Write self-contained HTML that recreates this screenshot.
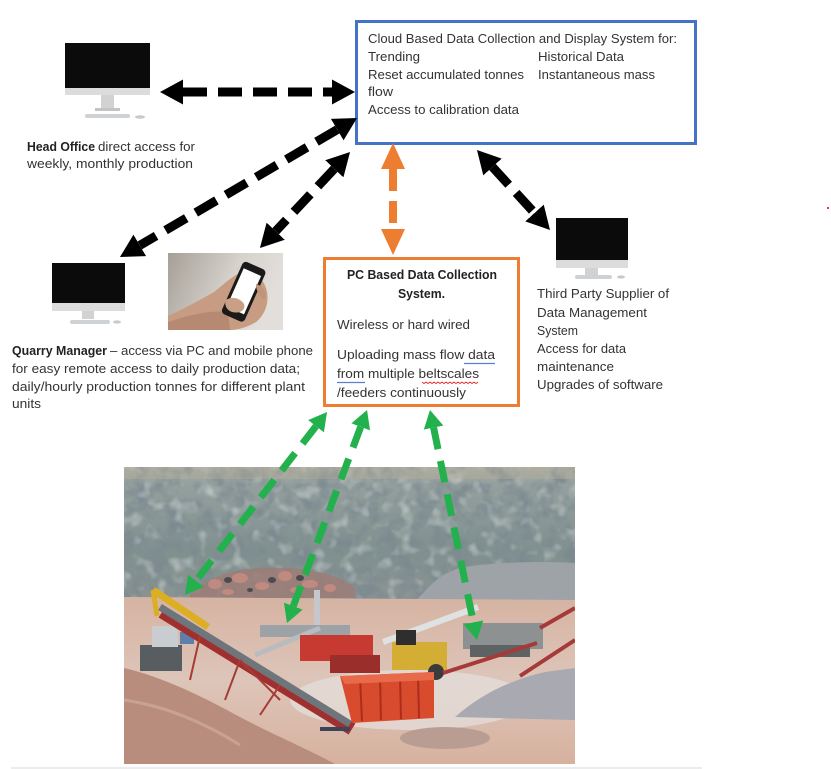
<!DOCTYPE html>
<html>
<head>
<meta charset="utf-8">
<style>
html,body{margin:0;padding:0;background:#fff;}
svg{display:block;}
text{font-family:"Liberation Sans",Arial,sans-serif;font-size:12.5px;fill:#333;}
.b{font-weight:bold;fill:#222;}
</style>
</head>
<body>
<svg width="831" height="769" viewBox="0 0 831 769" xmlns="http://www.w3.org/2000/svg">
<defs>
  <marker id="ab" markerUnits="userSpaceOnUse" markerWidth="26" markerHeight="28" viewBox="0 -14 26 28" refX="0" refY="0" orient="auto-start-reverse">
    <path d="M0,-12.5 L23,0 L0,12.5 Z" fill="#000"/>
  </marker>
  <marker id="ao" markerUnits="userSpaceOnUse" markerWidth="28" markerHeight="28" viewBox="0 -14 28 28" refX="0" refY="0" orient="auto-start-reverse">
    <path d="M0,-12 L26,0 L0,12 Z" fill="#ED7D31"/>
  </marker>
  <marker id="ag" markerUnits="userSpaceOnUse" markerWidth="22" markerHeight="24" viewBox="0 -12 22 24" refX="0" refY="0" orient="auto-start-reverse">
    <path d="M0,-10 L18,0 L0,10 Z" fill="#22B14C"/>
  </marker>
  <linearGradient id="wall" x1="0" y1="0" x2="0" y2="1">
    <stop offset="0" stop-color="#a9ada3"/>
    <stop offset="0.12" stop-color="#94a09e"/>
    <stop offset="0.6" stop-color="#80908f"/>
    <stop offset="1" stop-color="#8c9593"/>
  </linearGradient>
  <linearGradient id="ground" x1="0" y1="0" x2="0" y2="1">
    <stop offset="0" stop-color="#d6b3a2"/>
    <stop offset="0.5" stop-color="#ddc5b9"/>
    <stop offset="1" stop-color="#d7b19e"/>
  </linearGradient>
  <linearGradient id="phonebg" x1="0" y1="0" x2="1" y2="0.3">
    <stop offset="0" stop-color="#a59f96"/>
    <stop offset="0.6" stop-color="#d6d2cc"/>
    <stop offset="1" stop-color="#e2dfda"/>
  </linearGradient>
  <filter id="rock" x="0" y="0" width="100%" height="100%">
    <feTurbulence type="fractalNoise" baseFrequency="0.06" numOctaves="3" seed="7"/>
    <feColorMatrix type="matrix" values="0 0 0 0 0.2  0 0 0 0 0.25  0 0 0 0 0.28  3.2 0 0 0 -1.35"/>
  </filter>
  <filter id="rock2" x="0" y="0" width="100%" height="100%">
    <feTurbulence type="fractalNoise" baseFrequency="0.07" numOctaves="2" seed="2"/>
    <feColorMatrix type="matrix" values="0 0 0 0 0.78  0 0 0 0 0.82  0 0 0 0 0.8  0 3 0 0 -1.6"/>
  </filter>
  <clipPath id="photo"><rect x="124" y="467" width="451" height="297"/></clipPath>
  <clipPath id="phclip"><rect x="168" y="253" width="115" height="77"/></clipPath>
</defs>

<!-- Cloud box -->
<rect x="356.5" y="21.5" width="339" height="122" fill="#fff" stroke="#4472C4" stroke-width="3"/>
<text x="368" y="43" textLength="309" lengthAdjust="spacingAndGlyphs">Cloud Based Data Collection and Display System for:</text>
<text x="368" y="61" textLength="52" lengthAdjust="spacingAndGlyphs">Trending</text>
<text x="538" y="61" textLength="86" lengthAdjust="spacingAndGlyphs">Historical Data</text>
<text x="368" y="79" textLength="156" lengthAdjust="spacingAndGlyphs">Reset accumulated tonnes</text>
<text x="538" y="79" textLength="117" lengthAdjust="spacingAndGlyphs">Instantaneous mass</text>
<text x="368" y="96" textLength="25" lengthAdjust="spacingAndGlyphs">flow</text>
<text x="368" y="114" textLength="151" lengthAdjust="spacingAndGlyphs">Access to calibration data</text>

<!-- Head office monitor -->
<rect x="65" y="43" width="85" height="45" fill="#0b0b0b"/>
<rect x="65" y="88" width="85" height="7" fill="#dcdcdc"/>
<rect x="101" y="95" width="13" height="13" fill="#d2d2d2"/>
<rect x="95" y="108" width="25" height="3" fill="#c4c4c4"/>
<rect x="85" y="114" width="45" height="4" rx="2" fill="#cfd2d4"/>
<ellipse cx="140" cy="117" rx="5" ry="1.8" fill="#c9c9c9"/>
<text class="b" x="27" y="151" textLength="68" lengthAdjust="spacingAndGlyphs">Head Office</text>
<text x="98" y="151" textLength="97" lengthAdjust="spacingAndGlyphs">direct access for</text>
<text x="27" y="168" textLength="166" lengthAdjust="spacingAndGlyphs">weekly, monthly production</text>

<!-- Quarry manager monitor -->
<rect x="52" y="263" width="73" height="40" fill="#0b0b0b"/>
<rect x="52" y="303" width="73" height="8" fill="#dcdcdc"/>
<rect x="82" y="311" width="12" height="8" fill="#d2d2d2"/>
<rect x="70" y="320" width="40" height="4" rx="2" fill="#cfd2d4"/>
<ellipse cx="117" cy="322" rx="4" ry="1.6" fill="#c9c9c9"/>

<!-- Phone photo -->
<g clip-path="url(#phclip)">
  <rect x="168" y="253" width="115" height="77" fill="url(#phonebg)"/>
  <path d="M168,316 C185,308 200,300 214,292 C224,284 232,276 242,272 C252,270 262,276 266,288 C270,300 266,314 256,322 C246,328 236,330 230,330 L168,330 Z" fill="#c79c82"/>
  <path d="M168,322 C190,315 210,310 228,312 L230,330 L168,330 Z" fill="#b68a72"/>
  <g transform="rotate(24 243 292)">
    <rect x="231" y="263" width="25" height="57" rx="4" fill="#1a1a1a"/>
    <rect x="234" y="270" width="19" height="42" fill="#ffffff"/>
  </g>
  <path d="M226,300 C232,296 240,298 244,304 C246,310 240,314 232,312 C226,310 224,304 226,300 Z" fill="#c99f85"/>
  <path d="M256,284 C264,286 268,294 264,300 C260,296 256,292 256,284 Z" fill="#c09479"/>
</g>

<text class="b" x="12" y="355" textLength="95" lengthAdjust="spacingAndGlyphs">Quarry Manager</text>
<text x="110" y="355" textLength="203" lengthAdjust="spacingAndGlyphs">– access via PC and mobile phone</text>
<text x="12" y="373" textLength="288" lengthAdjust="spacingAndGlyphs">for easy remote access to daily production data;</text>
<text x="12" y="391" textLength="293" lengthAdjust="spacingAndGlyphs">daily/hourly production tonnes for different plant</text>
<text x="12" y="408" textLength="29" lengthAdjust="spacingAndGlyphs">units</text>

<!-- PC box -->
<rect x="324.5" y="258.5" width="194" height="147" fill="#fff" stroke="#ED7D31" stroke-width="3"/>
<text class="b" x="347" y="279" textLength="150" lengthAdjust="spacingAndGlyphs">PC Based Data Collection</text>
<text class="b" x="398" y="298" textLength="47" lengthAdjust="spacingAndGlyphs">System.</text>
<text x="337" y="329" textLength="133" lengthAdjust="spacingAndGlyphs">Wireless or hard wired</text>
<text x="337" y="359" textLength="158" lengthAdjust="spacingAndGlyphs">Uploading mass flow data</text>
<text x="337" y="378" textLength="142" lengthAdjust="spacingAndGlyphs">from multiple beltscales</text>
<text x="337" y="397" textLength="129" lengthAdjust="spacingAndGlyphs">/feeders continuously</text>
<line x1="464" y1="363.5" x2="495" y2="363.5" stroke="#5b7fd0" stroke-width="1.3"/>
<line x1="337" y1="382.5" x2="365" y2="382.5" stroke="#5b7fd0" stroke-width="1.3"/>
<path d="M422,382 l2,1.5 l2,-1.5 l2,1.5 l2,-1.5 l2,1.5 l2,-1.5 l2,1.5 l2,-1.5 l2,1.5 l2,-1.5 l2,1.5 l2,-1.5 l2,1.5 l2,-1.5 l2,1.5 l2,-1.5 l2,1.5 l2,-1.5 l2,1.5 l2,-1.5 l2,1.5 l2,-1.5 l2,1.5 l2,-1.5 l2,1.5 l2,-1.5 l2,1.5 l2,-1.5" fill="none" stroke="#e03030" stroke-width="0.9"/>

<!-- Third party monitor -->
<rect x="556" y="218" width="72" height="42" fill="#0b0b0b"/>
<rect x="556" y="260" width="72" height="8" fill="#dcdcdc"/>
<rect x="585" y="268" width="13" height="7" fill="#d2d2d2"/>
<rect x="575" y="275" width="37" height="4" rx="2" fill="#cfd2d4"/>
<ellipse cx="621" cy="277" rx="4" ry="1.6" fill="#c9c9c9"/>
<text x="537" y="298" textLength="132" lengthAdjust="spacingAndGlyphs">Third Party Supplier of</text>
<text x="537" y="317" textLength="110" lengthAdjust="spacingAndGlyphs">Data Management</text>
<text x="537" y="335" textLength="41" lengthAdjust="spacingAndGlyphs">System</text>
<text x="537" y="353" textLength="89" lengthAdjust="spacingAndGlyphs">Access for data</text>
<text x="537" y="371" textLength="77" lengthAdjust="spacingAndGlyphs">maintenance</text>
<text x="537" y="389" textLength="126" lengthAdjust="spacingAndGlyphs">Upgrades of software</text>

<!-- Black dashed arrows -->
<g stroke="#000" stroke-width="9" fill="none" stroke-dasharray="24 11">
  <line x1="183" y1="92" x2="332" y2="92" marker-start="url(#ab)" marker-end="url(#ab)"/>
  <line x1="337.2" y1="129.6" x2="139.8" y2="245.4" marker-start="url(#ab)" marker-end="url(#ab)"/>
  <line x1="334.3" y1="168.8" x2="275.7" y2="231.2" marker-start="url(#ab)" marker-end="url(#ab)"/>
  <line x1="492.5" y1="167" x2="534.5" y2="213" marker-start="url(#ab)" marker-end="url(#ab)"/>
</g>
<!-- Orange arrow -->
<line x1="393" y1="169" x2="393" y2="229" stroke="#ED7D31" stroke-width="8" stroke-dasharray="22 10" marker-start="url(#ao)" marker-end="url(#ao)"/>

<!-- Quarry photo -->
<g clip-path="url(#photo)">
  <rect x="124" y="467" width="451" height="140" fill="url(#wall)"/>
  <rect x="124" y="467" width="451" height="140" filter="url(#rock)" opacity="0.85"/>
  <rect x="124" y="467" width="451" height="140" filter="url(#rock2)" opacity="0.45"/>
  <rect x="124" y="467" width="451" height="12" fill="#b4ad9c" opacity="0.45"/>
  <!-- pink rocks -->
  <path d="M190,594 C205,580 225,570 260,568 C300,566 335,572 355,588 L355,598 L190,598 Z" fill="#9c7c76" opacity="0.85"/>
  <g fill="#c08a80">
    <ellipse cx="215" cy="584" rx="7" ry="5"/><ellipse cx="240" cy="578" rx="8" ry="5"/>
    <ellipse cx="262" cy="586" rx="7" ry="4"/><ellipse cx="285" cy="576" rx="7" ry="5"/>
    <ellipse cx="310" cy="584" rx="8" ry="4"/><ellipse cx="330" cy="588" rx="6" ry="4"/>
    <ellipse cx="228" cy="592" rx="6" ry="3"/><ellipse cx="296" cy="590" rx="6" ry="3"/>
  </g>
  <g fill="#4d4a4e">
    <ellipse cx="228" cy="580" rx="4" ry="3"/><ellipse cx="272" cy="580" rx="4" ry="3"/><ellipse cx="300" cy="578" rx="4" ry="3"/><ellipse cx="250" cy="590" rx="3" ry="2"/>
  </g>
  <!-- distant gravel right -->
  <path d="M415,602 C430,585 440,574 460,568 C490,562 540,561 575,563 L575,606 Z" fill="#9ea3a8"/>
  <!-- ground -->
  <path d="M124,597 L575,600 L575,764 L124,764 Z" fill="url(#ground)"/>
  <ellipse cx="410" cy="700" rx="120" ry="30" fill="#e4dcd8" opacity="0.8"/>
  <!-- left equipment -->
  <rect x="140" y="645" width="42" height="26" fill="#585d62"/>
  <rect x="152" y="626" width="26" height="21" fill="#c9cdd1"/>
  <rect x="180" y="632" width="14" height="12" fill="#5d7fa8"/>
  <!-- yellow arm -->
  <line x1="153" y1="590" x2="208" y2="627" stroke="#dcae22" stroke-width="7"/>
  <line x1="153" y1="590" x2="157" y2="616" stroke="#dcae22" stroke-width="5"/>
  <!-- main conveyor -->
  <line x1="162" y1="612" x2="352" y2="729" stroke="#a03030" stroke-width="13"/>
  <line x1="160" y1="607" x2="350" y2="724" stroke="#6f767b" stroke-width="7"/>
  <g stroke="#a83a34" stroke-width="2">
    <line x1="200" y1="636" x2="190" y2="680"/><line x1="240" y1="660" x2="225" y2="700"/>
    <line x1="280" y1="685" x2="260" y2="715"/><line x1="240" y1="660" x2="280" y2="700"/>
  </g>
  <!-- middle structure -->
  <rect x="314" y="590" width="6" height="45" fill="#c4c8cc"/>
  <rect x="260" y="625" width="90" height="12" fill="#9ca2a6"/>
  <line x1="255" y1="655" x2="320" y2="628" stroke="#b8bcc0" stroke-width="5"/>
  <rect x="300" y="635" width="73" height="26" fill="#c63a32"/>
  <rect x="330" y="655" width="50" height="18" fill="#9a2e2a"/>
  <!-- silver conveyor right -->
  <line x1="383" y1="642" x2="478" y2="607" stroke="#dfe2e2" stroke-width="6"/>
  <!-- yellow loader -->
  <rect x="392" y="642" width="55" height="28" fill="#d4ad34"/>
  <rect x="396" y="630" width="20" height="15" fill="#2e2e2e"/>
  <circle cx="436" cy="672" r="8" fill="#3b3b3b"/>
  <!-- right machine -->
  <rect x="463" y="623" width="80" height="26" fill="#8d9191"/>
  <rect x="470" y="645" width="60" height="12" fill="#5e6262"/>
  <g stroke="#a63a3a" stroke-width="4">
    <line x1="443" y1="673" x2="537" y2="643"/>
    <line x1="520" y1="676" x2="575" y2="640"/>
    <line x1="540" y1="628" x2="575" y2="608"/>
  </g>
  <!-- red hopper -->
  <path d="M340,676 L434,672 L434,718 L352,723 Z" fill="#d84b2c"/>
  <g stroke="#aa2e1e" stroke-width="2">
    <line x1="360" y1="677" x2="362" y2="721"/><line x1="380" y1="676" x2="381" y2="720"/>
    <line x1="400" y1="675" x2="401" y2="719"/><line x1="418" y1="674" x2="419" y2="718"/>
  </g>
  <path d="M340,676 L434,672 L434,680 L345,684 Z" fill="#e86a4a"/>
  <!-- piles -->
  <path d="M124,668 C160,676 200,695 240,717 C280,738 310,750 335,764 L124,764 Z" fill="#b98d7e"/>
  <path d="M124,700 C160,705 200,720 240,745" fill="none" stroke="#c8a294" stroke-width="3"/>
  <path d="M455,717 C480,695 510,680 545,672 L575,668 L575,720 Z" fill="#a8a9b1"/>
  <ellipse cx="445" cy="738" rx="45" ry="11" fill="#b99d92"/>
  <rect x="320" y="727" width="30" height="4" fill="#3d4458"/>
</g>

<!-- Green arrows -->
<g stroke="#22B14C" stroke-width="7" fill="none" stroke-dasharray="22 12">
  <line x1="316" y1="426.2" x2="196" y2="580.8" marker-start="url(#ag)" marker-end="url(#ag)"/>
  <line x1="360.7" y1="426.9" x2="293.3" y2="606.1" marker-start="url(#ag)" marker-end="url(#ag)"/>
  <line x1="433.6" y1="427.6" x2="473.4" y2="622.4" marker-start="url(#ag)" marker-end="url(#ag)"/>
</g>

<!-- bottom strip and red dot -->
<rect x="11" y="767" width="691" height="2" fill="#ececec"/>
<rect x="827" y="207" width="2" height="2" fill="#e04040"/>
</svg>
</body>
</html>
